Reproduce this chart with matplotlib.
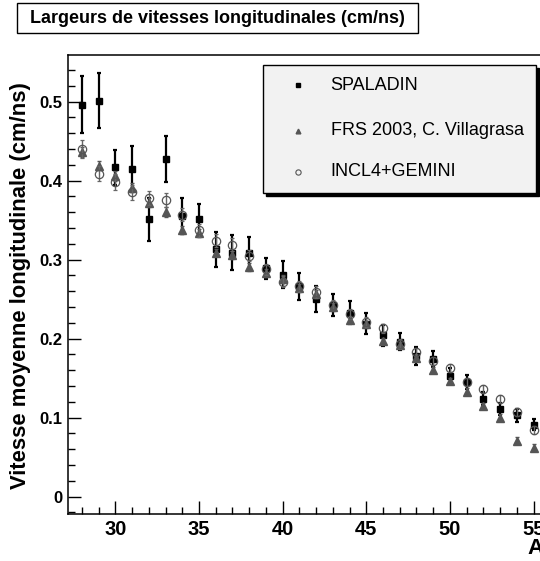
import matplotlib
matplotlib.use("Agg")
import matplotlib.pyplot as plt
from matplotlib.patches import Rectangle
from matplotlib.lines import Line2D
from matplotlib.ticker import MultipleLocator

plt.rcParams['font.family'] = ['Liberation Sans', 'DejaVu Sans']

# Mass number of the fragment
mass = list(range(28, 56))

# SPALADIN measurement with its uncertainty
spaladin = [0.496, 0.501, 0.417, 0.415, 0.351, 0.427, 0.355, 0.351, 0.313, 0.309,
            0.308, 0.289, 0.281, 0.266, 0.250, 0.243, 0.233, 0.219, 0.204, 0.196,
            0.178, 0.174, 0.153, 0.145, 0.124, 0.111, 0.103, 0.091]
spaladin_err = [0.036, 0.035, 0.022, 0.029, 0.027, 0.029, 0.023, 0.020, 0.022, 0.022,
                0.020, 0.013, 0.017, 0.017, 0.016, 0.014, 0.014, 0.013, 0.013, 0.011,
                0.011, 0.010, 0.010, 0.009, 0.008, 0.008, 0.008, 0.007]

# FRS 2003 data (C. Villagrasa)
frs = [0.436, 0.419, 0.406, 0.391, 0.372, 0.360, 0.337, 0.334, 0.309, 0.306,
       0.291, 0.283, 0.275, 0.264, 0.256, 0.240, 0.224, 0.218, 0.197, 0.192,
       0.176, 0.160, 0.146, 0.133, 0.115, 0.100, 0.071, 0.062]
frs_err = [0.006, 0.006, 0.006, 0.006, 0.006, 0.006, 0.005, 0.005, 0.005, 0.005,
           0.005, 0.005, 0.005, 0.005, 0.005, 0.005, 0.004, 0.004, 0.004, 0.004,
           0.004, 0.004, 0.004, 0.004, 0.004, 0.004, 0.004, 0.004]

# INCL4+GEMINI calculation
incl = [0.440, 0.409, 0.398, 0.385, 0.378, 0.375, 0.357, 0.337, 0.324, 0.319,
        0.305, 0.288, 0.272, 0.266, 0.259, 0.243, 0.231, 0.221, 0.213, 0.193,
        0.183, 0.172, 0.163, 0.145, 0.136, 0.123, 0.107, 0.084]
incl_err = [0.011, 0.010, 0.010, 0.009, 0.009, 0.009, 0.008, 0.008, 0.008, 0.008,
            0.007, 0.007, 0.007, 0.007, 0.007, 0.006, 0.006, 0.006, 0.006, 0.006,
            0.005, 0.005, 0.005, 0.005, 0.005, 0.005, 0.005, 0.005]

legend_labels = ['SPALADIN', 'FRS 2003, C. Villagrasa', 'INCL4+GEMINI']

W, H = 540, 561
fig = plt.figure(figsize=(W / 100, H / 100), dpi=100)

def fx(px):
    return px / W

def fy(py):
    return 1 - py / H

ax = fig.add_axes([fx(67.7), fy(514), fx(567) - fx(67.7), fy(55) - fy(514)])
ax.set_xlim(27.15, 57.0)
ax.set_ylim(-0.022, 0.559)

ax.errorbar(mass, spaladin, yerr=spaladin_err, fmt='s', color='black',
            markersize=5, elinewidth=1.6, capsize=1.6, capthick=1.6, zorder=3)
ax.errorbar(mass, frs, yerr=frs_err, fmt='^', color='#555555',
            markersize=5.8, elinewidth=1.0, capsize=1.4, capthick=1.0, zorder=4)
ax.errorbar(mass, incl, yerr=incl_err, fmt='o', color='#666666', mfc='none',
            mec='#555555', mew=0.9, markersize=6, elinewidth=1.0, capsize=1.4,
            capthick=1.0, zorder=5)

for side in ('top', 'right', 'left', 'bottom'):
    ax.spines[side].set_linewidth(1.1)

ax.xaxis.set_major_locator(MultipleLocator(5))
ax.xaxis.set_minor_locator(MultipleLocator(1))
ax.yaxis.set_major_locator(MultipleLocator(0.1))
ax.yaxis.set_minor_locator(MultipleLocator(0.02))
ax.tick_params(which='both', direction='in', top=False, right=False, width=1.0)
ax.tick_params(which='major', length=9.5)
ax.tick_params(which='minor', length=5)
ax.tick_params(axis='x', which='major', labelsize=14.5, pad=4)
ax.tick_params(axis='y', which='major', labelsize=12, pad=3.5)
ax.yaxis.set_major_formatter(plt.FuncFormatter(lambda v, p: '0' if abs(v) < 1e-9 else f'{v:.1f}'))
for lab in ax.get_xticklabels() + ax.get_yticklabels():
    lab.set_fontweight('bold')

fig.text(fx(20.5), fy(286), 'Vitesse moyenne longitudinale (cm/ns)', rotation=90,
         ha='center', va='center', fontsize=15.8, fontweight='bold')
fig.text(fx(527), fy(548), 'A', ha='left', va='center', fontsize=16, fontweight='bold')

# Title box
fig.patches.append(Rectangle((fx(16.7), fy(33.3)), fx(418.3) - fx(16.7), fy(3.3) - fy(33.3),
                             transform=fig.transFigure, facecolor='white',
                             edgecolor='black', linewidth=1.0))
fig.text(fx(217.0), fy(18.5), 'Largeurs de vitesses longitudinales (cm/ns)',
         ha='center', va='center', fontsize=13, fontweight='bold')

# Legend box with a solid drop shadow
fig.patches.append(Rectangle((fx(265.7), fy(195.7)), fx(539) - fx(265.7), fy(67.7) - fy(195.7),
                             transform=fig.transFigure, facecolor='black',
                             edgecolor='black', linewidth=1.0, zorder=9))
fig.patches.append(Rectangle((fx(262.7), fy(192.7)), fx(536) - fx(262.7), fy(64.7) - fy(192.7),
                             transform=fig.transFigure, facecolor='#f2f2f2',
                             edgecolor='black', linewidth=1.0, zorder=10))

rows = [85, 130.7, 171.7]
styles = [dict(marker='s', color='black', mfc='black', mec='black', markersize=3.2),
          dict(marker='^', color='#555555', mfc='#555555', mec='#555555', markersize=3.4),
          dict(marker='o', color='#555555', mfc='none', mec='#555555', markersize=3.8, mew=0.8)]
for ry, lab, st in zip(rows, legend_labels, styles):
    fig.lines.append(Line2D([fx(297.7)], [fy(ry)], transform=fig.transFigure,
                            linestyle='none', zorder=11, **st))
    fig.text(fx(330.7), fy(ry), lab, ha='left', va='center', fontsize=13, zorder=11)

fig.savefig('out.png', dpi=100)
